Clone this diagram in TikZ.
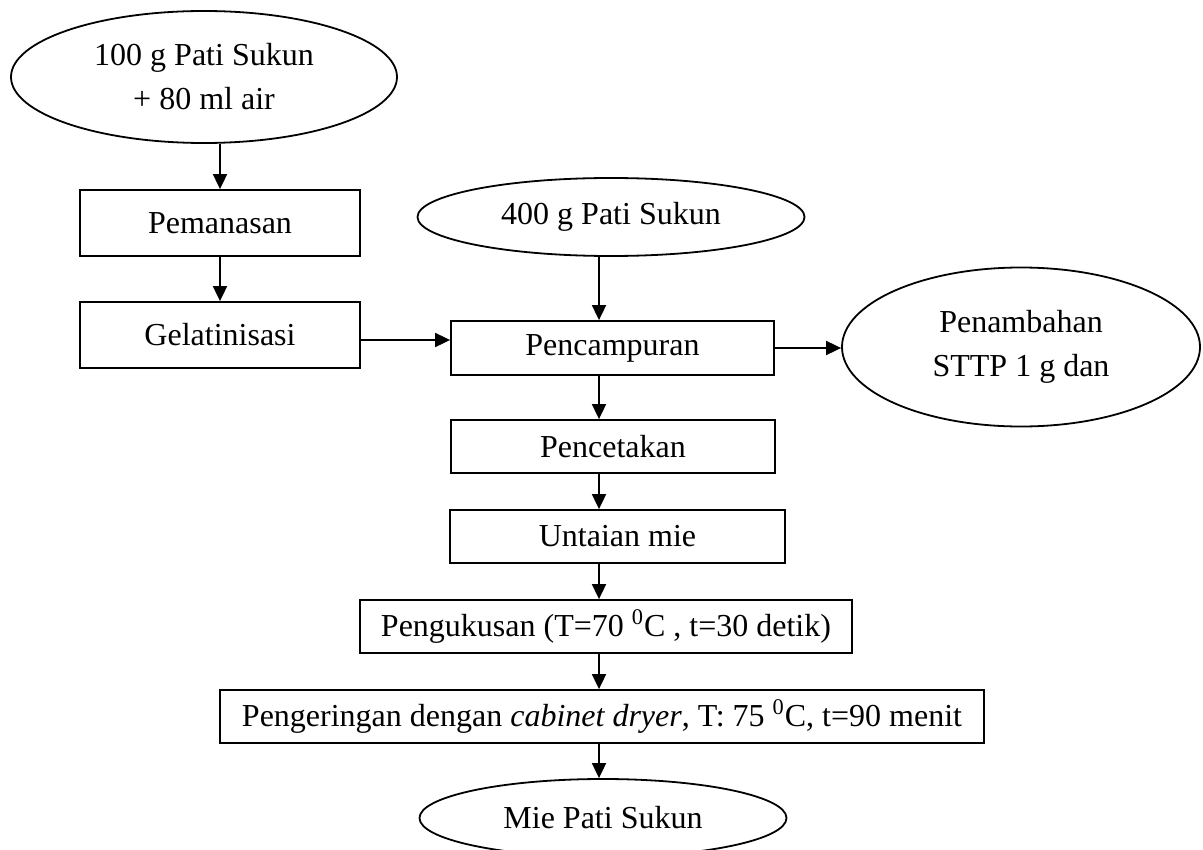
\documentclass[tikz,border=0pt]{standalone}
\usepackage{fontspec}
\setmainfont{Liberation Serif}
\usetikzlibrary{arrows.meta,shapes.geometric}

\tikzset{
    proses/.style={draw, line width=0.9pt, rectangle, inner sep=0pt, align=center},
    bahan/.style={draw, line width=0.9pt, ellipse, inner sep=0pt, align=center},
    alir/.style={->, line width=0.9pt}
}

\begin{document}
\begin{tikzpicture}[x=0.5pt, y=-0.5pt, font=\fontsize{16}{22}\selectfont,
                    >={Triangle[length=7.5pt,width=7pt]}]

    \useasboundingbox (0,0) rectangle (1203,850);

    % ==========================================================
    % bahan dan proses awal
    % ==========================================================
    \node[bahan, minimum width=193pt, minimum height=66pt] (bahan1) at (204,77)
        {100 g Pati Sukun\\+ 80 ml air};
    \node[proses, minimum width=140pt, minimum height=33pt] (panas) at (220,223) {Pemanasan};
    \node[proses, minimum width=140pt, minimum height=33pt] (gelatin) at (220,335) {Gelatinisasi};

    \node[bahan, minimum width=193.5pt, minimum height=39pt] (bahan2) at (611,217) {400 g Pati Sukun};

    % ==========================================================
    % jalur utama
    % ==========================================================
    \coordinate (kolom) at (599,0);

    \node[proses, minimum width=161.5pt, minimum height=27pt] (campur) at (612.5,348) {Pencampuran};
    \node[bahan, minimum width=179pt, minimum height=79.5pt] (tambah) at (1021,347)
        {Penambahan\\STTP 1 g dan};
    \node[proses, minimum width=162pt, minimum height=26.5pt] (cetak) at (613,446.5) {Pencetakan};
    \node[proses, minimum width=167.5pt, minimum height=26.5pt] (untai) at (617.5,536.5) {Untaian mie};
    \node[proses, minimum width=246pt, minimum height=26.5pt] (kukus) at (606,626.5)
        {Pengukusan (T=70 \textsuperscript{0}C , t=30 detik)};
    \node[proses, minimum width=382pt, minimum height=26.5pt] (kering) at (602,716.5)
        {Pengeringan dengan \textit{cabinet dryer}, T: 75 \textsuperscript{0}C, t=90 menit};
    \node[bahan, minimum width=183.5pt, minimum height=39pt] (mie) at (603,818) {Mie Pati Sukun};

    % panah
    \draw[alir] (panas.north |- bahan1.south) -- (panas.north);
    \draw[alir] (panas) -- (gelatin);
    \draw[alir] ([yshift=-2.5pt]gelatin.east) -- ([yshift=-2.5pt]gelatin.east -| campur.west);
    \draw[alir] (bahan2.south -| kolom) -- (campur.north -| kolom);
    \draw[alir] (campur.east) -- (campur.east -| tambah.west);

    \draw[alir] (campur.south -| kolom) -- (cetak.north -| kolom);
    \draw[alir] (cetak.south -| kolom) -- (untai.north -| kolom);
    \draw[alir] (untai.south -| kolom) -- (kukus.north -| kolom);
    \draw[alir] (kukus.south -| kolom) -- (kering.north -| kolom);
    \draw[alir] (kering.south -| kolom) -- (mie.north -| kolom);

\end{tikzpicture}
\end{document}
